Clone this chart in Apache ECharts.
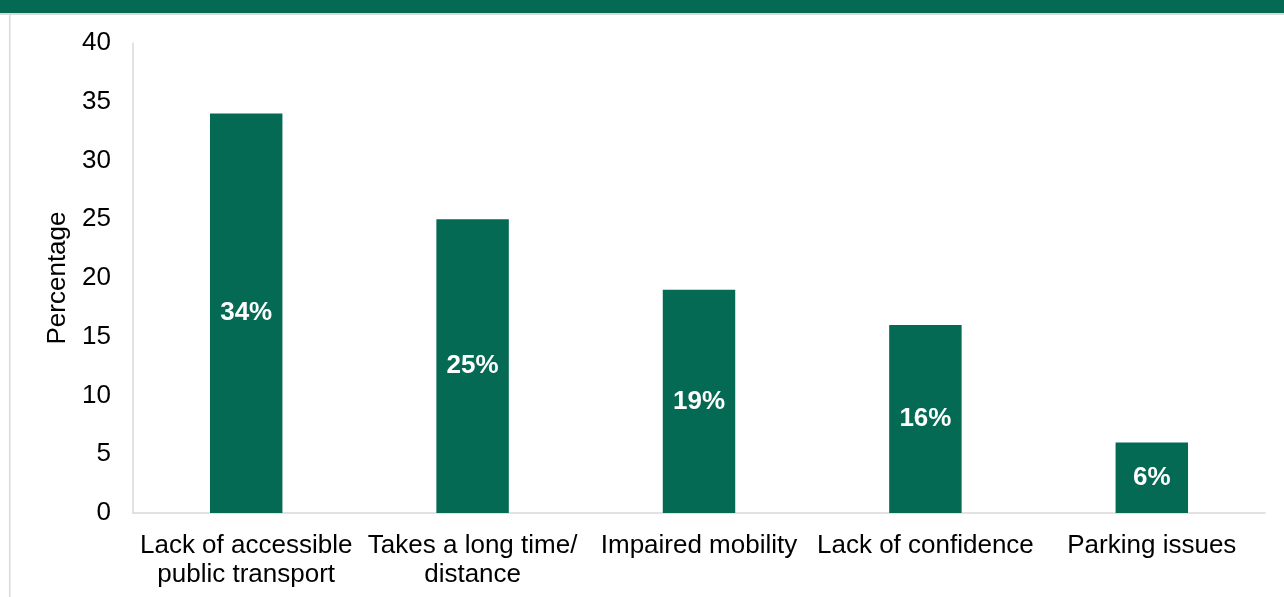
<!DOCTYPE html>
<html><head><meta charset="utf-8">
<script src="https://cdn.jsdelivr.net/npm/echarts@6/dist/echarts.min.js"></script>
<style>html,body{margin:0;padding:0;background:#fff}#c{width:1284px;height:597px}</style>
</head><body><div id="c"></div>
<script>
const categories = ["Lack of accessible\npublic transport", "Takes a long time/\ndistance", "Impaired mobility", "Lack of confidence", "Parking issues"];
const values = [34, 25, 19, 16, 6];
const yTicks = [0, 5, 10, 15, 20, 25, 30, 35, 40];

const green = '#046A54';
const chart = echarts.init(document.getElementById('c'), null, {renderer: 'canvas'});
chart.setOption({
  animation: false,
  backgroundColor: '#fff',
  graphic: [
    {type: 'rect', shape: {x: 0, y: 0, width: 1284, height: 13}, style: {fill: green}},
    {type: 'rect', shape: {x: 0, y: 13, width: 1284, height: 2}, style: {fill: '#d9d9d9'}},
    {type: 'rect', shape: {x: 9, y: 15, width: 1.5, height: 582}, style: {fill: '#d9d9d9'}}
  ],
  grid: {left: 133, right: 19, top: 43, bottom: 84},
  xAxis: {
    type: 'category', data: categories,
    axisLine: {lineStyle: {color: '#d9d9d9', width: 1.5}},
    axisTick: {show: false},
    axisLabel: {color: '#000', fontFamily: 'Liberation Sans, Arial', fontSize: 26, margin: 18, lineHeight: 29, interval: 0}
  },
  yAxis: {
    type: 'value', min: yTicks[0], max: yTicks[yTicks.length - 1], interval: 5,
    name: 'Percentage', nameLocation: 'middle', nameGap: 60, nameRotate: 90,
    nameTextStyle: {color: '#000', fontFamily: 'Liberation Sans, Arial', fontSize: 26},
    axisLine: {show: true, lineStyle: {color: '#d9d9d9', width: 1.5}},
    axisTick: {show: false},
    splitLine: {show: false},
    axisLabel: {color: '#000', fontFamily: 'Liberation Sans, Arial', fontSize: 26, margin: 22}
  },
  series: [{
    type: 'bar', data: values, barWidth: '32%',
    itemStyle: {color: green},
    label: {show: true, position: 'inside', formatter: '{c}%', color: '#fff', fontWeight: 'bold', fontFamily: 'Liberation Sans, Arial', fontSize: 26}
  }]
});
</script></body></html>
